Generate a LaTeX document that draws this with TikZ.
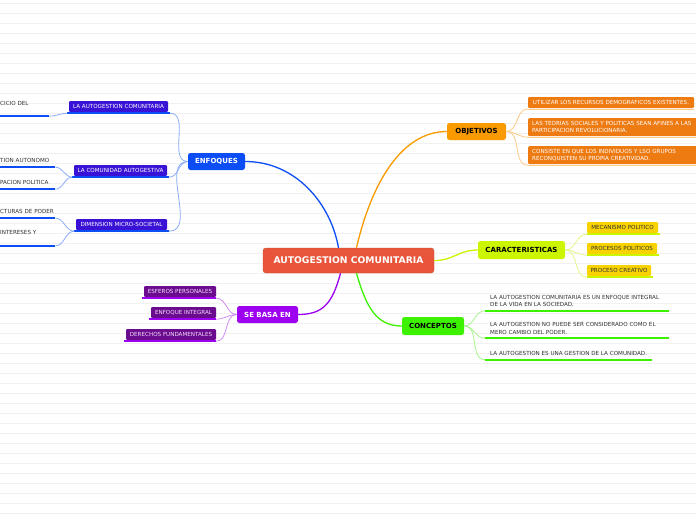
\documentclass[tikz,border=0pt]{standalone}
\usepackage{fontspec}
\setmainfont{DejaVu Sans}
\usepackage{tikz}
\usepackage{xcolor}
\definecolor{gridgray}{HTML}{F1F1F1}
\definecolor{ctrred}{HTML}{E9553B}
\definecolor{enfblue}{HTML}{0D4DF5}
\definecolor{enfsub}{HTML}{3A12D6}
\definecolor{enftwig}{HTML}{8DADF9}
\definecolor{objorange}{HTML}{F99B00}
\definecolor{objsub}{HTML}{EE7A12}
\definecolor{objtwig}{HTML}{FCCB8A}
\definecolor{carlime}{HTML}{CCF500}
\definecolor{cargold}{HTML}{F8D300}
\definecolor{cartwig}{HTML}{E4F88C}
\definecolor{congreen}{HTML}{3DF200}
\definecolor{contwig}{HTML}{A8F48F}
\definecolor{sbapurple}{HTML}{9D00F0}
\definecolor{sbasub}{HTML}{6B0B8E}
\definecolor{sbatwig}{HTML}{CF8EF5}
\definecolor{notegray}{HTML}{333333}

\begin{document}
\begin{tikzpicture}[x=1pt,y=-1pt,
grid/.style={draw=gridgray,line width=0.7pt},
hub/.style={rounded corners=3pt,fill=ctrred,draw=ctrred!85!black,line width=0.4pt,text=white,font=\bfseries\fontsize{9.2}{11}\selectfont,minimum width=171pt,minimum height=25pt,inner sep=0pt},
topic/.style={rounded corners=2.5pt,font=\bfseries\fontsize{7}{8}\selectfont,minimum height=17pt,inner sep=0pt},
tag/.style={rounded corners=1.2pt,font=\fontsize{5.6}{7.3}\selectfont,minimum height=11pt,inner sep=0pt},
note/.style={font=\fontsize{5.6}{7.3}\selectfont,text=notegray,align=left,inner sep=0pt},
trunk/.style={line width=1.3pt},
twig/.style={line width=0.8pt},
bar/.style={line width=2pt}]
\useasboundingbox[fill=white](0,0)rectangle(696,520);
\foreach \gy in {3,13,...,513} \draw[grid](0,\gy)--(696,\gy);

\node[hub](ctr)at(348.5,260.5){AUTOGESTION COMUNITARIA};
\node[topic,fill=enfblue,text=white,minimum width=57pt](enf)at(216.5,161.5){ENFOQUES};
\node[topic,fill=objorange,minimum width=59pt](obj)at(476.5,131.5){OBJETIVOS};
\node[topic,fill=carlime,minimum width=87pt,minimum height=18pt](car)at(521.5,250){CARACTERISTICAS};
\node[topic,fill=congreen,minimum width=62pt,minimum height=18pt](con)at(433,326){CONCEPTOS};
\node[topic,fill=sbapurple,text=white,minimum width=61pt](sba)at(267.5,314.5){SE BASA EN};

\draw[trunk,enfblue]([xshift=-10pt]ctr.north)..controls +(-8,-45) and +(50,0)..(enf.east);
\draw[trunk,objorange]([xshift=8pt]ctr.north)..controls +(15,-65) and +(-45,0)..(obj.west);
\draw[trunk,carlime](ctr.east)..controls +(20,0) and +(-20,0)..(car.west);
\draw[trunk,congreen]([xshift=8pt]ctr.south)..controls +(10,35) and +(-25,0)..(con.west);
\draw[trunk,sbapurple]([xshift=-8pt]ctr.south)..controls +(-8,30) and +(25,0)..(sba.east);

\node[tag,fill=enfsub,text=white,minimum width=99pt](aut)at(118.5,106.5){LA AUTOGESTION COMUNITARIA};
\node[tag,fill=enfsub,text=white,minimum width=93pt](com)at(120.5,170.5){LA COMUNIDAD AUTOGESTIVA};
\node[tag,fill=enfsub,text=white,minimum width=91pt](dim)at(121.5,224.5){DIMENSION MICRO-SOCIETAL};
\foreach \n in {aut,com,dim}{
\draw[bar,enfblue]([xshift=-1.5pt,yshift=-1pt]\n.south west)--([xshift=2pt,yshift=-1pt]\n.south east);
\draw[twig,enftwig](enf.west)to[out=180,in=0]([xshift=2pt,yshift=-1pt]\n.south east);
}

\node[note,anchor=base west,text width=49pt,text depth=11pt](lfa)at(0,105){CICIO DEL};
\node[note,anchor=base west,text width=55pt,text depth=5pt](lfb)at(0,162){TION AUTONOMO};
\node[note,anchor=base west,text width=55pt,text depth=5pt](lfc)at(0,184){PACION POLITICA};
\node[note,anchor=base west,text width=55pt,text depth=5pt](lfd)at(0,213){CTURAS DE PODER};
\node[note,anchor=base west,text width=55pt,text depth=11.7pt](lfe)at(0,234){INTERESES Y};
\foreach \n in {lfa,lfb,lfc,lfd,lfe}
\draw[bar,enfblue](\n.south west)--(\n.south east);
\draw[twig,enftwig]([xshift=-1.5pt,yshift=-1pt]aut.south west)to[out=180,in=0](lfa.south east);
\draw[twig,enftwig]([xshift=-1.5pt,yshift=-1pt]com.south west)to[out=180,in=0](lfb.south east);
\draw[twig,enftwig]([xshift=-1.5pt,yshift=-1pt]com.south west)to[out=180,in=0](lfc.south east);
\draw[twig,enftwig]([xshift=-1.5pt,yshift=-1pt]dim.south west)to[out=180,in=0](lfd.south east);
\draw[twig,enftwig]([xshift=-1.5pt,yshift=-1pt]dim.south west)to[out=180,in=0](lfe.south east);

\node[tag,fill=objsub,text=white,minimum width=166pt](ua)at(611,102.5){UTILIZAR LOS RECURSOS DEMOGRAFICOS EXISTENTES.};
\node[tag,fill=objsub,text=white,anchor=north west,text width=166pt,inner xsep=4pt,align=left,minimum height=18pt](ub)at(528,118){LAS TEORIAS SOCIALES Y POLITICAS SEAN AFINES A LAS\\PARTICIPACION REVOLUCIONARIA.};
\node[tag,fill=objsub,text=white,anchor=north west,text width=166pt,inner xsep=4pt,align=left,minimum height=18pt](uc)at(528,146){CONSISTE EN QUE LOS INDIVIDUOS Y LSO GRUPOS\\RECONQUISTEN SU PROPIA CREATIVIDAD.};
\foreach \n in {ua,ub,uc}{
\draw[line width=1pt,objtwig]([yshift=-0.8pt]\n.south west)--([yshift=-0.8pt]\n.south east);
\draw[twig,objtwig](obj.east)to[out=0,in=180]([yshift=-0.8pt]\n.south west);
}

\node[tag,fill=cargold,text=notegray,minimum width=71pt](mp)at(622.5,227.5){MECANISMO POLITICO};
\node[tag,fill=cargold,text=notegray,minimum width=70pt](pp)at(622,248.5){PROCESOS POLITICOS};
\node[tag,fill=cargold,text=notegray,minimum width=64pt](pc)at(619,270.5){PROCESO CREATIVO};
\foreach \n in {mp,pp,pc}{
\draw[bar,carlime]([yshift=-1pt]\n.south west)--([xshift=2pt,yshift=-1pt]\n.south east);
\draw[twig,cartwig](car.east)to[out=0,in=180]([yshift=-1pt]\n.south west);
}

\node[note,anchor=south west,inner xsep=5pt,inner ysep=4pt,text width=174pt](cpa)at(485,310.7){LA AUTOGESTION COMUNITARIA ES UN ENFOQUE INTEGRAL\\DE LA VIDA EN LA SOCIEDAD.};
\node[note,anchor=south west,inner xsep=5pt,inner ysep=4pt,text width=174pt](cpb)at(485,338.3){LA AUTOGESTION NO PUEDE SER CONSIDERADO COMO EL\\MERO CAMBIO DEL PODER.};
\node[note,anchor=south west,inner xsep=5pt,inner ysep=4pt](cpc)at(485,359.7){LA AUTOGESTION ES UNA GESTION DE LA COMUNIDAD.};
\foreach \n in {cpa,cpb,cpc}{
\draw[bar,congreen](\n.south west)--(\n.south east);
\draw[twig,contwig](con.east)to[out=0,in=180](\n.south west);
}

\node[tag,fill=sbasub,text=white!88!sbapurple,minimum width=72pt](esp)at(180,291.5){ESFEROS PERSONALES};
\node[tag,fill=sbasub,text=white!88!sbapurple,minimum width=65pt](eni)at(183.5,312.5){ENFOQUE INTEGRAL};
\node[tag,fill=sbasub,text=white!88!sbapurple,minimum width=90pt](der)at(171,334.5){DERECHOS FUNDAMENTALES};
\foreach \n in {esp,eni,der}{
\draw[line width=1.5pt,sbapurple]([xshift=-2pt,yshift=-1pt]\n.south west)--([yshift=-1pt]\n.south east);
\draw[twig,sbatwig](sba.west)to[out=180,in=0]([yshift=-1pt]\n.south east);
}
\end{tikzpicture}
\end{document}
